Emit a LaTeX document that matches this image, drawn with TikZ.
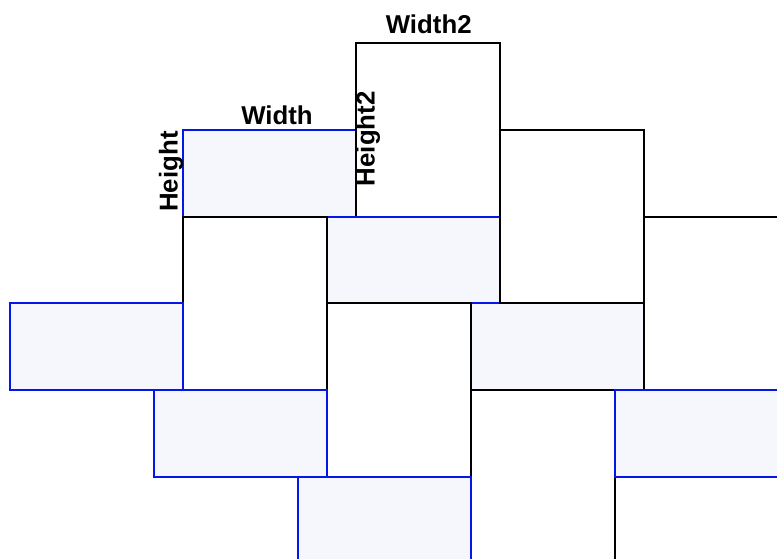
\documentclass[tikz,border=0pt]{standalone}
\usepackage{fontspec}
\setmainfont{Liberation Sans}
\definecolor{edgeblue}{RGB}{5,22,235}
\definecolor{tilefill}{RGB}{246,247,252}
\tikzset{
  bluetile/.style={draw=edgeblue, fill=tilefill, line width=2pt},
  blacktile/.style={draw=black, fill=white, line width=2pt},
  lbl/.style={inner sep=0pt, anchor=base, font=\fontsize{25.8}{30}\selectfont\bfseries}
}
\begin{document}
\begin{tikzpicture}[x=1pt,y=-1pt]
\useasboundingbox (0,0) rectangle (777,559);
\clip (0,0) rectangle (777,559);
% draw order matters for shared edges
\path[bluetile]  (183,130)   rectangle ++(173,86.7);   % B1
\path[blacktile] (356,43.3)  rectangle ++(144,173.4);  % K1
\path[bluetile]  (327,216.7) rectangle ++(173,86.6);   % B2
\path[blacktile] (183,216.7) rectangle ++(144,173.3);  % K4
\path[bluetile]  (471,303.3) rectangle ++(173,86.7);   % B5
\path[blacktile] (500,130)   rectangle ++(144,173.3);  % K2
\path[blacktile] (327,303.3) rectangle ++(144,173.4);  % K5
\path[blacktile] (644,216.7) rectangle ++(144,173.3);  % K3
\path[blacktile] (471,390)   rectangle ++(144,173.3);  % K6
\path[blacktile] (615,476.7) rectangle ++(200,173.3);  % K7
\path[bluetile]  (10,303.3)  rectangle ++(173,86.7);   % B3
\path[bluetile]  (154,390)   rectangle ++(173,86.7);   % B4
\path[bluetile]  (615,390)   rectangle ++(173,86.7);   % B6
\path[bluetile]  (298,476.7) rectangle ++(173,86.7);   % B7
% labels
\node[lbl] (w1) at (277,125) {Width};
\node[lbl] (w2) at (428.7,34) {Width2};
\node[lbl, rotate=90] (h1) at (177.6,171.5) {Height};
\node[lbl, rotate=90] (h2) at (374.6,138.7) {Height2};
\end{tikzpicture}
\end{document}
